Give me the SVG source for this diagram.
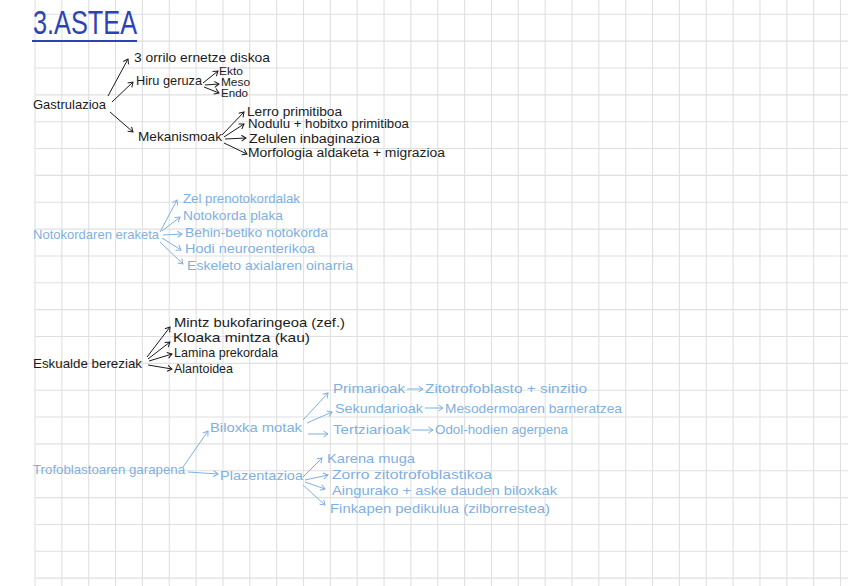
<svg xmlns="http://www.w3.org/2000/svg" width="848" height="586" viewBox="0 0 848 586">
<defs>
<style>
.grid{stroke:#e0e0e0;stroke-width:1.1;fill:none}
text{font-family:"Liberation Sans","Noto Sans",Arial,sans-serif;font-size:13.5px}
.s{font-size:12px}
.xs{font-size:10.5px}
.k{fill:#1b1b1b}
.b{fill:#7fb0e2}
.ck{stroke:#1b1b1b;stroke-width:1;fill:none;marker-end:url(#ak)}
.cb{stroke:#7fb0e2;stroke-width:1;fill:none;marker-end:url(#ab)}
</style>
<marker id="ak" markerUnits="userSpaceOnUse" markerWidth="10" markerHeight="10" refX="0" refY="0" viewBox="-6 -5 8 10" orient="auto"><path d="M-4.5,-3 L0,0 L-4.5,3" fill="none" stroke="#1b1b1b" stroke-width="1"/></marker>
<marker id="ab" markerUnits="userSpaceOnUse" markerWidth="10" markerHeight="10" refX="0" refY="0" viewBox="-6 -5 8 10" orient="auto"><path d="M-4.5,-3 L0,0 L-4.5,3" fill="none" stroke="#7fb0e2" stroke-width="1"/></marker>
</defs>
<rect width="848" height="586" fill="#ffffff"/>
<g id="grid" class="grid">
<path d="M35,0V586M61.85,0V586M88.7,0V586M115.55,0V586M142.4,0V586M169.25,0V586M196.1,0V586M222.95,0V586M249.8,0V586M276.65,0V586M303.5,0V586M330.35,0V586M357.2,0V586M384.05,0V586M410.9,0V586M437.75,0V586M464.6,0V586M491.45,0V586M518.3,0V586M545.15,0V586M572,0V586M598.85,0V586M625.7,0V586M652.55,0V586M679.4,0V586M706.25,0V586M733.1,0V586M759.95,0V586M786.8,0V586M813.65,0V586M840.5,0V586"/>
<path d="M35,14.3H848M35,41.15H848M35,68H848M35,94.85H848M35,121.7H848M35,148.55H848M35,175.4H848M35,202.25H848M35,229.1H848M35,255.95H848M35,282.8H848M35,309.65H848M35,336.5H848M35,363.35H848M35,390.2H848M35,417.05H848M35,443.9H848M35,470.75H848M35,497.6H848M35,524.45H848M35,551.3H848M35,578.15H848"/>
</g>
<g id="title">
<text x="33" y="34" style="font-size:34px" fill="#2b44b5" textLength="104" lengthAdjust="spacingAndGlyphs">3.ASTEA</text>
<line x1="32" y1="41" x2="137" y2="41" stroke="#2b44b5" stroke-width="2.2"/>
</g>
<g id="connectors">
<line class="ck" x1="108" y1="96" x2="128" y2="59"/>
<line class="ck" x1="112" y1="102" x2="133" y2="82"/>
<line class="ck" x1="110" y1="112" x2="133" y2="132"/>
<line class="ck" x1="203" y1="83" x2="218" y2="71"/>
<line class="ck" x1="205" y1="85" x2="219" y2="84"/>
<line class="ck" x1="204" y1="87" x2="219" y2="93"/>
<line class="ck" x1="222" y1="135" x2="244" y2="112"/>
<line class="ck" x1="224" y1="137" x2="244" y2="124"/>
<line class="ck" x1="225" y1="139" x2="246" y2="138"/>
<line class="ck" x1="224" y1="143" x2="247" y2="154"/>
<line class="cb" x1="160" y1="232" x2="177" y2="200"/>
<line class="cb" x1="162" y1="231" x2="180" y2="217"/>
<line class="cb" x1="163" y1="235" x2="182" y2="234"/>
<line class="cb" x1="162" y1="238" x2="181" y2="250"/>
<line class="cb" x1="160" y1="242" x2="183" y2="264"/>
<line class="ck" x1="147" y1="357" x2="170" y2="327"/>
<line class="ck" x1="148" y1="359" x2="170" y2="342"/>
<line class="ck" x1="149" y1="361" x2="172" y2="354"/>
<line class="ck" x1="148" y1="365" x2="172" y2="369"/>
<line class="cb" x1="183" y1="467" x2="208" y2="431"/>
<line class="cb" x1="188" y1="472" x2="218" y2="474"/>
<line class="cb" x1="303" y1="420" x2="328" y2="393"/>
<line class="cb" x1="307" y1="423" x2="332" y2="412"/>
<line class="cb" x1="308" y1="434" x2="328" y2="434"/>
<line class="cb" x1="407" y1="389" x2="423" y2="389"/>
<line class="cb" x1="425" y1="408" x2="443" y2="408"/>
<line class="cb" x1="412" y1="430" x2="433" y2="430"/>
<line class="cb" x1="303" y1="477" x2="322" y2="458"/>
<line class="cb" x1="305" y1="480" x2="328" y2="475"/>
<line class="cb" x1="305" y1="482" x2="325" y2="489"/>
<line class="cb" x1="303" y1="485" x2="325" y2="505"/>
</g>
<g id="n-gastrulazioa"><text class="k" x="33" y="109" textLength="73" lengthAdjust="spacingAndGlyphs">Gastrulazioa</text></g>
<g id="n-3orrilo"><text class="k" x="134" y="62" textLength="136" lengthAdjust="spacingAndGlyphs">3 orrilo ernetze diskoa</text></g>
<g id="n-hiru"><text class="k" x="136" y="85" textLength="66" lengthAdjust="spacingAndGlyphs">Hiru geruza</text></g>
<g id="n-ekto"><text class="k xs" x="219" y="75" textLength="24" lengthAdjust="spacingAndGlyphs">Ekto</text></g>
<g id="n-meso"><text class="k xs" x="221" y="86" textLength="29" lengthAdjust="spacingAndGlyphs">Meso</text></g>
<g id="n-endo"><text class="k xs" x="221" y="97" textLength="27" lengthAdjust="spacingAndGlyphs">Endo</text></g>
<g id="n-mekanismoak"><text class="k" x="138" y="141" textLength="84" lengthAdjust="spacingAndGlyphs">Mekanismoak</text></g>
<g id="n-lerro"><text class="k s" x="247" y="115.5" textLength="95" lengthAdjust="spacingAndGlyphs">Lerro primitiboa</text></g>
<g id="n-nodulu"><text class="k s" x="248" y="128" textLength="161" lengthAdjust="spacingAndGlyphs">Nodulu + hobitxo primitiboa</text></g>
<g id="n-zelulen"><text class="k s" x="249" y="142.5" textLength="131" lengthAdjust="spacingAndGlyphs">Zelulen inbaginazioa</text></g>
<g id="n-morfologia"><text class="k s" x="248" y="157" textLength="197" lengthAdjust="spacingAndGlyphs">Morfologia aldaketa + migrazioa</text></g>
<g id="n-notokordaren"><text class="b" x="33" y="239" textLength="126" lengthAdjust="spacingAndGlyphs">Notokordaren eraketa</text></g>
<g id="n-zel"><text class="b" x="183" y="203" textLength="117" lengthAdjust="spacingAndGlyphs">Zel prenotokordalak</text></g>
<g id="n-plaka"><text class="b" x="183" y="220" textLength="100" lengthAdjust="spacingAndGlyphs">Notokorda plaka</text></g>
<g id="n-behin"><text class="b" x="185" y="237" textLength="143" lengthAdjust="spacingAndGlyphs">Behin-betiko notokorda</text></g>
<g id="n-hodi"><text class="b" x="185" y="252.5" textLength="130" lengthAdjust="spacingAndGlyphs">Hodi neuroenterikoa</text></g>
<g id="n-eskeleto"><text class="b" x="187" y="270" textLength="166" lengthAdjust="spacingAndGlyphs">Eskeleto axialaren oinarria</text></g>
<g id="n-eskualde"><text class="k" x="33" y="368" textLength="109" lengthAdjust="spacingAndGlyphs">Eskualde bereziak</text></g>
<g id="n-mintz"><text class="k" x="174" y="327" textLength="171" lengthAdjust="spacingAndGlyphs">Mintz bukofaringeoa (zef.)</text></g>
<g id="n-kloaka"><text class="k" x="173" y="342" textLength="137" lengthAdjust="spacingAndGlyphs">Kloaka mintza (kau)</text></g>
<g id="n-lamina"><text class="k" x="174" y="357" textLength="104" lengthAdjust="spacingAndGlyphs">Lamina prekordala</text></g>
<g id="n-alantoidea"><text class="k" x="174" y="373" textLength="59" lengthAdjust="spacingAndGlyphs">Alantoidea</text></g>
<g id="n-trofoblastoaren"><text class="b" x="33" y="474" textLength="152" lengthAdjust="spacingAndGlyphs">Trofoblastoaren garapena</text></g>
<g id="n-biloxka"><text class="b" x="210" y="432" textLength="92" lengthAdjust="spacingAndGlyphs">Biloxka motak</text></g>
<g id="n-primarioak"><text class="b" x="333" y="393" textLength="72" lengthAdjust="spacingAndGlyphs">Primarioak</text></g>
<g id="n-zitotrofoblasto"><text class="b" x="425" y="393" textLength="162" lengthAdjust="spacingAndGlyphs">Zitotrofoblasto + sinzitio</text></g>
<g id="n-sekundarioak"><text class="b" x="335" y="413" textLength="88" lengthAdjust="spacingAndGlyphs">Sekundarioak</text></g>
<g id="n-mesodermoaren"><text class="b" x="445" y="413" textLength="177" lengthAdjust="spacingAndGlyphs">Mesodermoaren barneratzea</text></g>
<g id="n-tertziarioak"><text class="b" x="333" y="434" textLength="77" lengthAdjust="spacingAndGlyphs">Tertziarioak</text></g>
<g id="n-odol"><text class="b" x="435" y="434" textLength="133" lengthAdjust="spacingAndGlyphs">Odol-hodien agerpena</text></g>
<g id="n-plazentazioa"><text class="b" x="220" y="480" textLength="83" lengthAdjust="spacingAndGlyphs">Plazentazioa</text></g>
<g id="n-karena"><text class="b" x="327" y="463" textLength="88" lengthAdjust="spacingAndGlyphs">Karena muga</text></g>
<g id="n-zorro"><text class="b" x="332" y="479" textLength="160" lengthAdjust="spacingAndGlyphs">Zorro zitotrofoblastikoa</text></g>
<g id="n-aingurako"><text class="b" x="332" y="495" textLength="225" lengthAdjust="spacingAndGlyphs">Aingurako + aske dauden biloxkak</text></g>
<g id="n-finkapen"><text class="b" x="330" y="513" textLength="220" lengthAdjust="spacingAndGlyphs">Finkapen pedikulua (zilborrestea)</text></g>
</svg>
